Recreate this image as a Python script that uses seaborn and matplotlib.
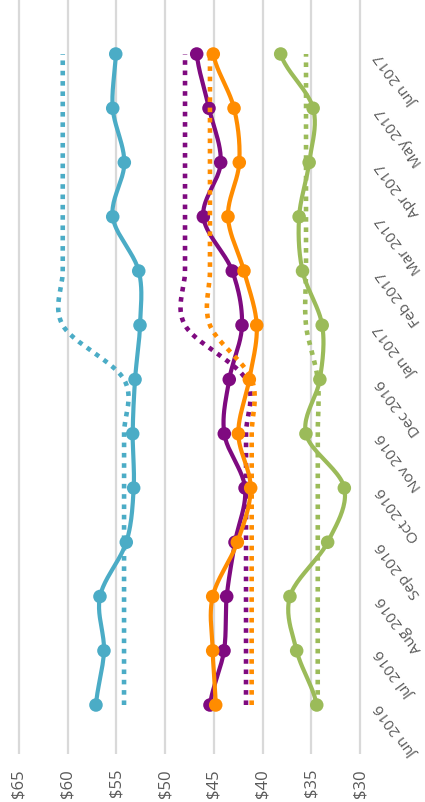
import numpy as np
import pandas as pd
import matplotlib
matplotlib.use("Agg")
import matplotlib.pyplot as plt
import seaborn as sns

months = ["Jun 2016", "Jul 2016", "Aug 2016", "Sep 2016", "Oct 2016", "Nov 2016",
          "Dec 2016", "Jan 2017", "Feb 2017", "Mar 2017", "Apr 2017", "May 2017", "Jun 2017"]

blue = [57.10, 56.28, 56.69, 53.99, 53.23, 53.33, 53.09, 52.58, 52.71, 55.38, 54.19, 55.38, 55.07]
blue_ref = [54.22] * 7 + [60.51] * 6

purple = [45.40, 43.96, 43.68, 42.83, 41.80, 43.93, 43.42, 42.11, 43.11, 46.08, 44.30, 45.50, 46.76]
purple_ref = [41.70] * 7 + [47.96] * 6

orange = [44.81, 45.12, 45.12, 42.59, 41.22, 42.49, 41.36, 40.60, 41.91, 43.55, 42.39, 42.93, 45.06]
orange_ref = [41.12] * 7 + [45.40] * 6

green = [34.44, 36.50, 37.19, 33.32, 31.61, 35.55, 34.12, 33.88, 35.90, 36.25, 35.22, 34.81, 38.14]
green_ref = [34.34] * 7 + [35.54] * 6

price_ticks = [65, 60, 55, 50, 45, 40, 35, 30]
price_labels = ["$65", "$60", "$55", "$50", "$45", "$40", "$35", "$30"]

colors = {"blue": "#4BACC6", "purple": "#7F0A80", "orange": "#FF8C00", "green": "#9BBB59"}


def smooth(vals, n=24):
    v = np.asarray(vals, float)
    m = np.empty_like(v)
    m[1:-1] = (v[2:] - v[:-2]) / 2
    m[0] = (v[1] - v[0]) / 2
    m[-1] = (v[-1] - v[-2]) / 2
    t = np.linspace(0, 1, n)
    h00 = 2 * t**3 - 3 * t**2 + 1
    h10 = t**3 - 2 * t**2 + t
    h01 = -2 * t**3 + 3 * t**2
    h11 = t**3 - t**2
    pos, val = [], []
    for i in range(len(v) - 1):
        seg = h00 * v[i] + h10 * m[i] + h01 * v[i + 1] + h11 * m[i + 1]
        pos.extend((i + t)[:-1] if i < len(v) - 2 else (i + t))
        val.extend(seg[:-1] if i < len(v) - 2 else seg)
    return np.array(pos), np.array(val)


sns.set_style("white")
plt.rcParams["font.family"] = ["Open Sans", "DejaVu Sans"]

W, H = 425, 803
fig = plt.figure(figsize=(W / 100, H / 100), dpi=100)
ax_left_px, ax_right_px = 0, 370
ax_bottom_px, ax_top_px = 755, 0
ax = fig.add_axes([ax_left_px / W, (H - ax_bottom_px) / H,
                   (ax_right_px - ax_left_px) / W, (ax_bottom_px - ax_top_px) / H])

ppd = 9.743  # pixels per dollar
x65 = 19
ax.set_xlim(65 + (x65 - ax_left_px) / ppd, 65 - (ax_right_px - x65) / ppd)
step = 54.25
y0 = 706
ax.set_ylim(-(ax_bottom_px - y0) / step, 12 + (55 - ax_top_px) / step)

idx = np.arange(len(months))
series = [("blue", blue, blue_ref), ("purple", purple, purple_ref),
          ("orange", orange, orange_ref), ("green", green, green_ref)]

z = 3
for name, vals, ref in series:
    c = colors[name]
    rp, rv = smooth(ref)
    df_r = pd.DataFrame({"pos": rp, "val": rv})
    sns.lineplot(data=df_r, x="val", y="pos", sort=False, estimator=None, ax=ax,
                 color=c, lw=3.3, linestyle=(0, (1.0, 1.25)),
                 solid_capstyle="butt", dash_capstyle="butt", zorder=z)
    sp, sv = smooth(vals)
    df_s = pd.DataFrame({"pos": sp, "val": sv})
    sns.lineplot(data=df_s, x="val", y="pos", sort=False, estimator=None, ax=ax,
                 color=c, lw=3.0, zorder=z + 0.1)
    df_p = pd.DataFrame({"pos": idx, "val": vals})
    sns.scatterplot(data=df_p, x="val", y="pos", ax=ax, color=c, s=95,
                    edgecolor="none", zorder=z + 0.2, clip_on=False)
    z += 1

ax.set_xticks(price_ticks)
ax.set_xticklabels(price_labels, rotation=90, fontsize=12, color="#595959")
ax.set_yticks(idx)
ax.set_yticklabels(months, fontsize=11, color="#595959")
ax.yaxis.tick_right()
ax.tick_params(axis="both", length=0)
ax.tick_params(axis="x", pad=10)
ax.tick_params(axis="y", pad=7)
plt.setp(ax.get_yticklabels(), rotation=126, ha="right", va="center",
         rotation_mode="anchor")
ax.xaxis.grid(True, color="#D9D9D9", lw=1.6)
ax.yaxis.grid(False)
ax.set_axisbelow(True)
for s in ax.spines.values():
    s.set_visible(False)
ax.set_xlabel("")
ax.set_ylabel("")
if ax.get_legend():
    ax.get_legend().remove()

fig.savefig("out.png", dpi=100)
